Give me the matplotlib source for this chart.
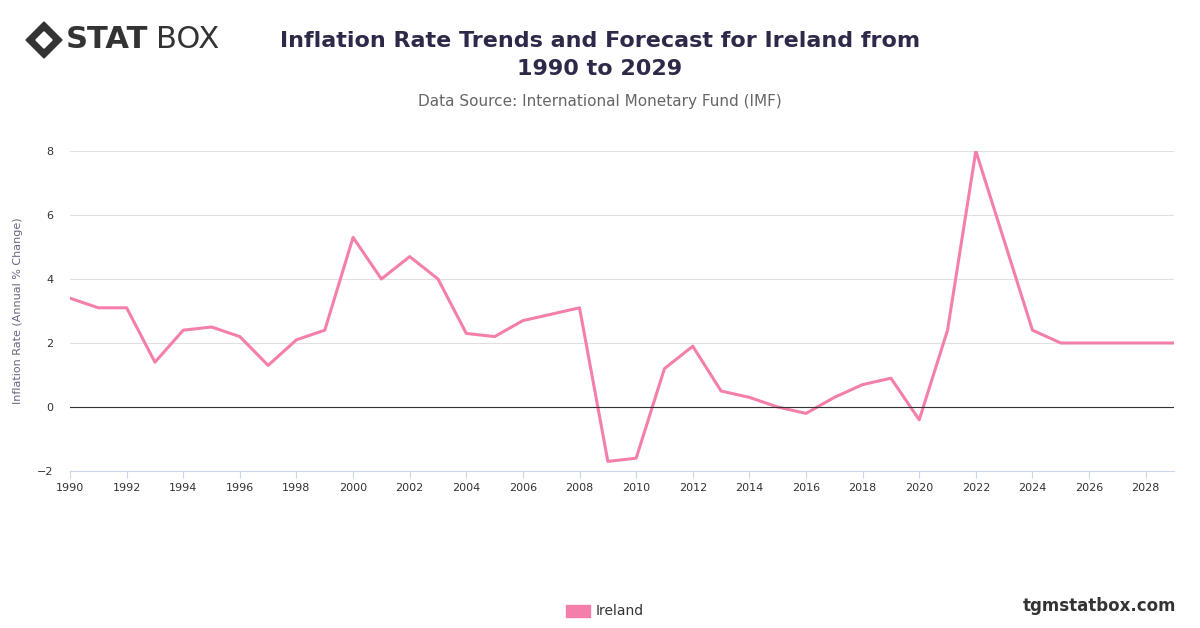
import matplotlib
matplotlib.use("Agg")
import matplotlib.pyplot as plt
from matplotlib.patches import Rectangle, Polygon

years = list(range(1990, 2030))
inflation = [3.4, 3.1, 3.1, 1.4, 2.4, 2.5, 2.2, 1.3, 2.1, 2.4,
             5.3, 4.0, 4.7, 4.0, 2.3, 2.2, 2.7, 2.9, 3.1, -1.7,
             -1.6, 1.2, 1.9, 0.5, 0.3, 0.0, -0.2, 0.3, 0.7, 0.9,
             -0.4, 2.4, 8.0, 5.2, 2.4, 2.0, 2.0, 2.0, 2.0, 2.0]
series_name = "Ireland"
xticks = list(range(1990, 2029, 2))
yticks = [-2, 0, 2, 4, 6, 8]

fig = plt.figure(figsize=(12, 6.28), dpi=100)
ax = fig.add_axes([70/1200, 1-471/628, (1174-70)/1200, (471-151)/628])
color = "#f47fab"
ax.plot(years, inflation, color=color, lw=2.2)
ax.set_xlim(1990, 2029)
ax.set_ylim(-2, 8)
ax.set_xticks(xticks)
ax.set_yticks(yticks)
ax.tick_params(axis="both", labelsize=8, colors="#333333", length=0)
ax.tick_params(axis="x", length=5, color="#ccd6eb")
ax.tick_params(axis="y", pad=12)
ax.grid(axis="y", color="#e0e0e0", lw=0.8)
ax.axhline(0, color="#333333", lw=0.8)
for s in ["top", "right", "left"]:
    ax.spines[s].set_visible(False)
ax.spines["bottom"].set_color("#ccd6eb")
ax.set_ylabel("Inflation Rate (Annual % Change)", fontsize=8, color="#666680", labelpad=10)

fig.text(0.5, 1-55/628, "Inflation Rate Trends and Forecast for Ireland from\n1990 to 2029",
         ha="center", va="center", fontsize=16, fontweight="bold", color="#2c2a48", linespacing=1.5)
fig.text(0.5, 0.838, "Data Source: International Monetary Fund (IMF)", ha="center",
         va="center", fontsize=11, color="#666666")

# legend
fig.patches.append(Rectangle((566/1200, 1-617/628), 24/1200, 12/628, transform=fig.transFigure,
                             color=color, figure=fig))
fig.text(596/1200, 1-611/628, series_name, fontsize=10, va="center", color="#333333")
fig.text(1176/1200, 1-606/628, "tgmstatbox.com", fontsize=12, fontweight="bold",
         ha="right", va="center", color="#333333")

# logo
cx, cy = 44/1200, 1-40/628
w, h = 18/1200, 18/628
fig.patches.append(Polygon([(cx-w, cy), (cx, cy+h), (cx+w, cy), (cx, cy-h)], closed=True,
                           transform=fig.transFigure, color="#333333", figure=fig))
fig.patches.append(Polygon([(cx-w*0.45, cy), (cx, cy+h*0.45), (cx+w*0.45, cy), (cx, cy-h*0.45)],
                           closed=True, transform=fig.transFigure, color="white", figure=fig))
fig.text(66/1200, cy, "STAT", fontsize=22, fontweight="heavy", va="center", color="#333333")
fig.text(156/1200, cy, "BOX", fontsize=22, va="center", color="#333333")

fig.savefig("out.png", dpi=100, facecolor="white")
